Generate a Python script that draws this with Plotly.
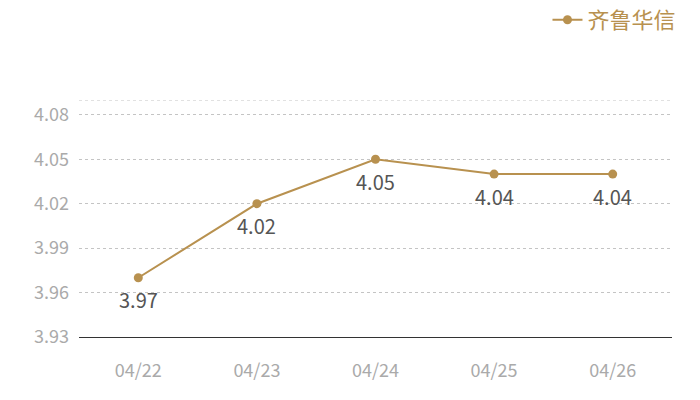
import plotly.graph_objects as go

categories = ["04/22", "04/23", "04/24", "04/25", "04/26"]
values = [3.97, 4.02, 4.05, 4.04, 4.04]
series_name = "齐鲁华信"
y_ticks = [3.93, 3.96, 3.99, 4.02, 4.05, 4.08, 4.09]
y_ticktext = ["3.93", "3.96", "3.99", "4.02", "4.05", "4.08", ""]

gold = "#b8914f"
font_family = "Noto Sans CJK SC, Open Sans, sans-serif"

fig = go.Figure()
xs = list(range(len(categories)))
fig.add_trace(go.Scatter(
    x=xs, y=values, name=series_name,
    mode="lines+markers",
    line=dict(color=gold, width=2),
    marker=dict(color=gold, size=9),
))
for x, v in zip(xs, values):
    fig.add_annotation(x=x, y=v, text=f"{v:.2f}", showarrow=False,
                       yshift=-22, font=dict(color="#555555", size=20, family=font_family))

# top gridline at axis max
fig.add_shape(type="line", xref="paper", x0=0, x1=1, yref="y",
              y0=y_ticks[-1], y1=y_ticks[-1],
              line=dict(color="#c4c4c4", width=1, dash="dot"), layer="below")

fig.update_layout(
    width=700, height=400,
    margin=dict(l=71, r=36, t=92, b=71, autoexpand=False),
    paper_bgcolor="white", plot_bgcolor="white",
    font=dict(family=font_family),
    showlegend=True,
    legend=dict(x=1.016, xanchor="right", y=0.97, yref="container", yanchor="middle",
                orientation="h", font=dict(color=gold, size=22, family=font_family),
                bgcolor="rgba(0,0,0,0)"),
    xaxis=dict(range=[-0.5, len(categories) - 0.5], tickvals=xs,
               ticktext=categories, showgrid=False, zeroline=False,
               showline=True, linecolor="#333333", linewidth=1, automargin=False,
               tickfont=dict(color="#aaaaaa", size=18), ticks="", ticklabelstandoff=17),
    yaxis=dict(range=[3.93, 4.09], tickvals=y_ticks, ticktext=y_ticktext,
               showgrid=True, gridcolor="#c4c4c4", griddash="dot", gridwidth=1,
               zeroline=False, showline=False, automargin=False,
               tickfont=dict(color="#aaaaaa", size=18), ticks="", ticklabelstandoff=9),
)

fig.write_html("out.html")
